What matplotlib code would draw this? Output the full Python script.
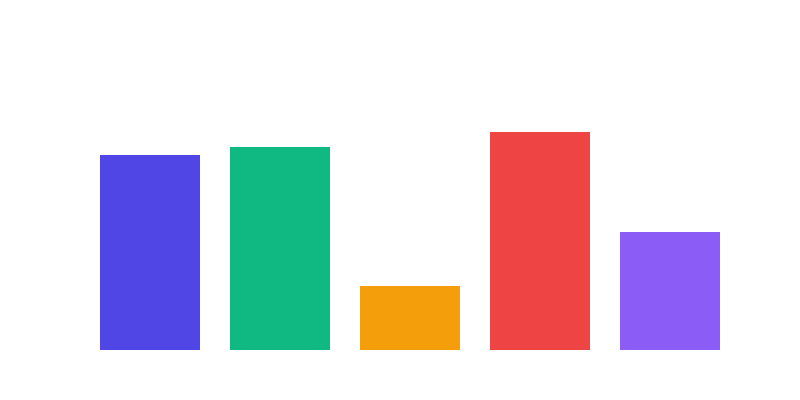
import matplotlib
matplotlib.use('Agg')
import matplotlib.pyplot as plt

# Данные (оценка по картинке)
categories = ['A', 'B', 'C', 'D', 'E']
values = [195, 203, 64, 218, 118]
colors = ['#4F46E5', '#10B981', '#F59E0B', '#EF4444', '#8B5CF6']

fig = plt.figure(figsize=(8, 4), dpi=100)
ax = fig.add_axes([0.125, 0.125, 0.775, 0.625])

w = 100 / 130
x = range(len(categories))
ax.bar(x, values, width=w, color=colors)

ax.set_xlim(-w / 2, len(categories) - 1 + w / 2)
ax.set_ylim(0, 250)
ax.axis('off')

fig.savefig('out.png', dpi=100)
